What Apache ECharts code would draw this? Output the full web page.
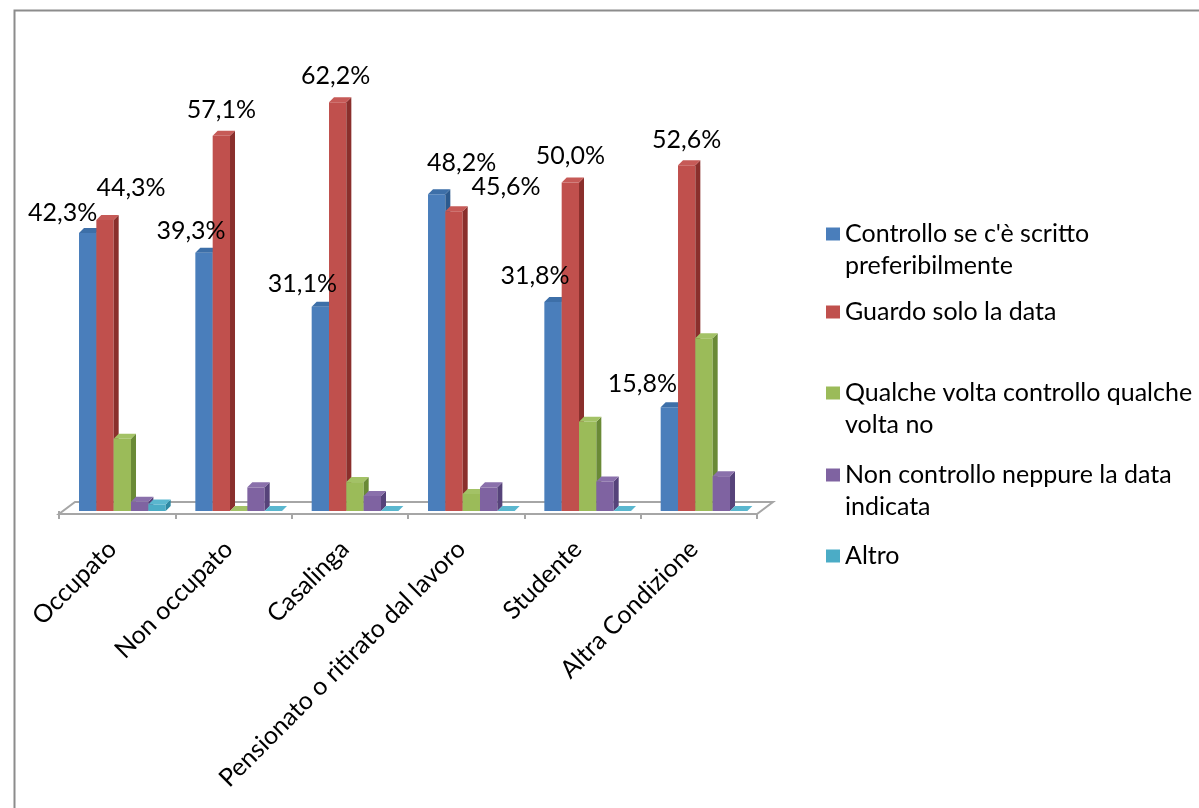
<!DOCTYPE html>
<html>
<head>
<meta charset="utf-8">
<script src="https://cdn.jsdelivr.net/npm/echarts@6/dist/echarts.min.js"></script>
<style>
html,body{margin:0;padding:0;background:#fff;}
#chart{width:1199px;height:808px;}
</style>
</head>
<body>
<div id="chart"></div>
<script>
// ---- Data ----
const categories = ['Occupato', 'Non occupato', 'Casalinga', 'Pensionato o ritirato dal lavoro', 'Studente', 'Altra Condizione'];
const seriesNames = [
  "Controllo se c'è scritto preferibilmente",
  'Guardo solo la data',
  'Qualche volta controllo qualche volta no',
  'Non controllo neppure la data indicata',
  'Altro'
];
const legendLines = [
  ["Controllo se c'è scritto", 'preferibilmente'],
  ['Guardo solo la data'],
  ['Qualche volta controllo qualche', 'volta no'],
  ['Non controllo neppure la data', 'indicata'],
  ['Altro']
];
const controlloScritto = [42.3, 39.3, 31.1, 48.2, 31.8, 15.8];
const guardoData      = [44.3, 57.1, 62.2, 45.6, 50.0, 52.6];
const qualcheVolta    = [11.0, 0.0, 4.4, 2.6, 13.6, 26.3];
const nonControllo    = [1.4, 3.6, 2.3, 3.6, 4.5, 5.3];
const altro           = [1.0, 0.0, 0.0, 0.0, 0.0, 0.0];
const seriesValues = [controlloScritto, guardoData, qualcheVolta, nonControllo, altro];
const showLabels = [true, true, false, false, false];

// ---- Styles / positions (not data) ----
const FONT = 'Lato';
const FS = 25;
const frontColors = ['#4a7ebb', '#c0504d', '#9bbb59', '#7f63a1', '#4bacc6'];
const sideColors  = ['#2c5a8e', '#8a2f2c', '#6a8a36', '#56437a', '#2e89a3'];
const topColors   = ['#3d6fa8', '#c65a57', '#a3c266', '#8a70ab', '#5ab7cf'];
// label offsets [dx, dy-above-top] per series per category
const labelOffsets = [
  [[-25, 20], [-13, 22], [-18, 23], [25, 31], [-18, 26], [-27, 23]],
  [[26, 32], [0, 26], [-2, 26], [52, 24], [0, 26], [0, 25]]
];
const BAR_FRAC = 0.149, START_FRAC = 0.172, DX = 5, DY = 5;

function fmt(v) { return v.toFixed(1).replace('.', ',') + '%'; }

function makeRender(si) {
  return function (params, api) {
    const ci = api.value(0), v = api.value(1);
    const base = api.coord([ci, 0]);
    const bw = api.size([1, 0])[0];
    const yTop = api.coord([ci, v])[1];
    const y0 = base[1];
    const w = bw * BAR_FRAC;
    const x0 = base[0] - bw / 2 + bw * START_FRAC + si * w;
    const x1 = x0 + w;
    const children = [];
    if (y0 - yTop > 0.5) {
      children.push({ type: 'rect', shape: { x: x0, y: yTop, width: w, height: y0 - yTop }, style: { fill: frontColors[si] } });
      children.push({ type: 'polygon', shape: { points: [[x1, yTop], [x1 + DX, yTop - DY], [x1 + DX, y0 - DY], [x1, y0]] }, style: { fill: sideColors[si] } });
    }
    children.push({ type: 'polygon', shape: { points: [[x0, yTop], [x0 + DX, yTop - DY], [x1 + DX, yTop - DY], [x1, yTop]] }, style: { fill: topColors[si] } });
    if (showLabels[si]) {
      const off = labelOffsets[si][ci];
      children.push({ type: 'text', style: { text: fmt(v), x: x0 + w / 2 + off[0], y: yTop - off[1], align: 'center', verticalAlign: 'middle', font: FS + 'px ' + FONT, fill: '#000' }, z2: 10 });
    }
    return { type: 'group', children: children };
  };
}

function floorRender(params, api) {
  const base = api.coord([0, 0]);
  const bw = api.size([1, 0])[0];
  const left = base[0] - bw / 2, right = left + categories.length * bw;
  const yf = base[1] + 3, yb = base[1] - 9, dd = 16;
  return {
    type: 'polygon',
    shape: { points: [[left, yf], [right, yf], [right + dd, yb], [left + dd, yb]] },
    style: { fill: '#fff', stroke: '#a6a6a6', lineWidth: 2 }
  };
}

const series = [{
  type: 'custom', name: 'floor', renderItem: floorRender, data: [[0, 0]], silent: true, z: 1, clip: false
}];
seriesValues.forEach(function (vals, si) {
  series.push({
    type: 'custom',
    name: seriesNames[si],
    renderItem: makeRender(si),
    data: vals.map(function (v, i) { return [i, v]; }),
    encode: { x: 0, y: 1 },
    itemStyle: { color: frontColors[si] },
    clip: false,
    z: 2
  });
});

const LH = 32;
const legendCenters = [234, 312, 393, 475, 556];
const legends = seriesNames.map(function (name, i) {
  const lines = legendLines[i];
  const twoLine = lines.length > 1;
  // for two-line entries, a blank leading line keeps the marker on the first text line
  const text = twoLine ? ' \n' + lines.join('\n') : lines[0];
  return {
    left: 826,
    top: twoLine ? legendCenters[i] - 1.5 * LH : legendCenters[i] - LH / 2,
    orient: 'vertical',
    padding: 0,
    itemWidth: 14,
    itemHeight: 13,
    itemGap: 8,
    icon: 'rect',
    selectedMode: false,
    formatter: function () { return text; },
    textStyle: { fontFamily: FONT, fontSize: FS, color: '#000', lineHeight: LH },
    data: [name]
  };
});

const chart = echarts.init(document.getElementById('chart'), null, { renderer: 'canvas' });
chart.setOption({
  animation: false,
  backgroundColor: '#fff',
  graphic: [{
    type: 'rect', left: 12, top: 8, z: 0,
    shape: { width: 1400, height: 1000 },
    style: { fill: 'none', stroke: '#8c8c8c', lineWidth: 2 }
  }],
  legend: legends,
  grid: { left: 59, right: 442, top: 51, bottom: 297 },
  xAxis: {
    type: 'category',
    data: categories,
    offset: 3,
    axisLine: { show: false },
    axisTick: { show: true, length: 8, lineStyle: { color: '#a6a6a6', width: 2 } },
    axisLabel: { rotate: 45, margin: 26, padding: [0, 7, 0, 0], interval: 0, fontFamily: FONT, fontSize: FS, color: '#000' }
  },
  yAxis: {
    type: 'value', min: 0, max: 70, interval: 10,
    show: false,
    splitLine: { show: false }
  },
  series: series
});
</script>
</body>
</html>
